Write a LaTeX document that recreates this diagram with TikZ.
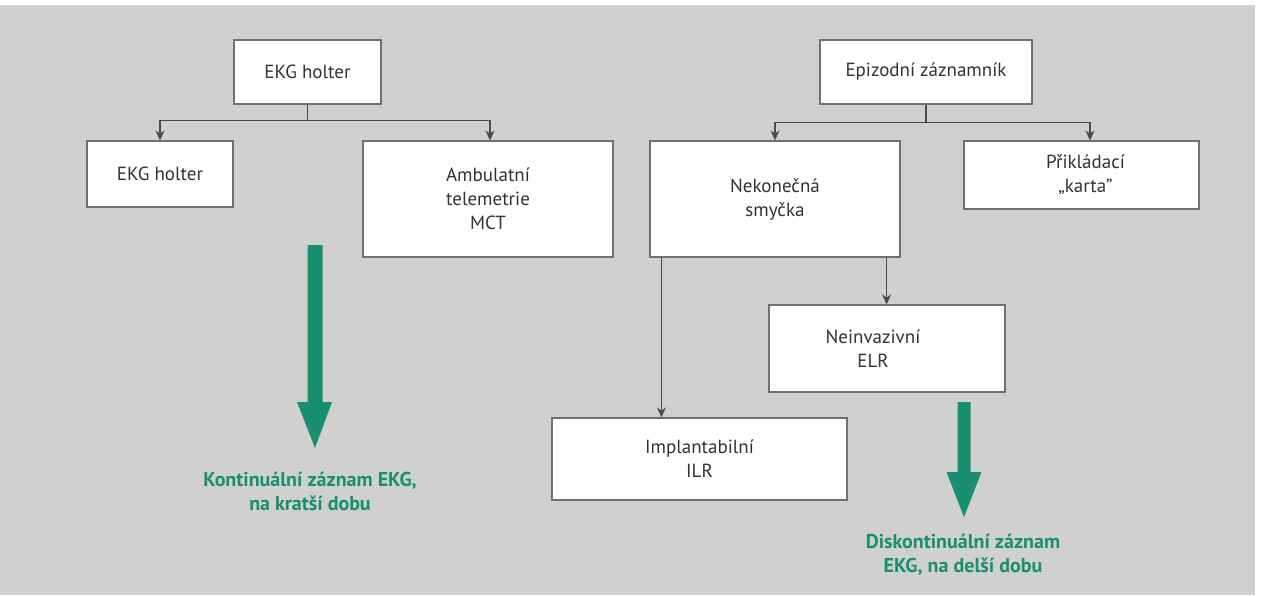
\documentclass[tikz,border=0pt]{standalone}
\usepackage{fontspec}
\setmainfont{PT Sans}
\usetikzlibrary{arrows.meta,calc}
\definecolor{bg}{HTML}{D0D0CE}
\definecolor{ekggreen}{HTML}{198F71}
\definecolor{boxline}{HTML}{707070}
\definecolor{conn}{HTML}{4A4A4A}
\tikzset{
  box/.style={draw=boxline, line width=1.2pt, fill=white, rectangle, align=center,
    font=\fontsize{19}{24}\selectfont, text=black!80, inner sep=0pt},
  conn/.style={draw=conn, line width=1.1pt, -{Stealth[length=10pt,width=9pt]}},
  greenarrow/.style={fill=ekggreen, draw=none},
  greentext/.style={align=center, text=ekggreen, font=\bfseries\fontsize{20}{24}\selectfont}
}
\begin{document}
\begin{tikzpicture}[x=1pt,y=-1pt]
\useasboundingbox (0,0) rectangle (1262,595);
\fill[white] (0,0) rectangle (1262,595);
\fill[bg] (0,5) rectangle (1255,595);

% left tree
\node[box, minimum width=147, minimum height=64] (hol1) at (307.5,72) {EKG holter};
\node[box, minimum width=146, minimum height=66] (hol2) at (160,174) {EKG holter};
\node[box, minimum width=250, minimum height=116] (amb) at (488,199) {Ambulatní\\telemetrie\\MCT};
\coordinate (lsplit) at ($(hol1.south)+(0,16)$);
\draw[conn] (hol1.south) -- (lsplit) -| (hol2.north);
\draw[conn] (lsplit) -| ([xshift=2]amb.north);

% right tree
\node[box, minimum width=212, minimum height=64] (epi) at (926,72) {Epizodní záznamník};
\node[box, minimum width=250, minimum height=116] (nek) at (775,199) {Nekonečná\\smyčka};
\node[box, minimum width=235, minimum height=68] (prik) at (1081.5,175) {\hspace*{8pt}Přikládací\\\hspace*{8pt}„karta"};
\node[box, minimum width=236, minimum height=87] (neinv) at (887,348.5) {\hspace*{-28pt}Neinvazivní\\\hspace*{-28pt}ELR};
\node[box, minimum width=295, minimum height=82] (ilr) at (699.5,459) {Implantabilní\\ILR};
\coordinate (rsplit) at ($(epi.south)+(0,18)$);
\draw[conn] (epi.south) -- (rsplit) -| (nek.north);
\draw[conn] (rsplit) -| ([xshift=8.5]prik.north);
\draw[conn] ([xshift=12]nek.south west) -- ([xshift=12]nek.south west |- ilr.north);
\draw[conn] ([xshift=-14]nek.south east) -- ([xshift=-14]nek.south east |- neinv.north);

% green arrows
\fill[greenarrow] (307.5,245) -- (322.5,245) -- (322.5,402) -- (332,402) -- (315,448) -- (297,402) -- (307.5,402) -- cycle;
\fill[greenarrow] (957.5,402) -- (970.5,402) -- (970.5,472) -- (981.5,472) -- (964,517) -- (946.5,472) -- (957.5,472) -- cycle;

\node[greentext] (lt) at (310,491) {Kontinuální záznam EKG,\\na kratší dobu};
\node[greentext] (rt) at (963,555) {Diskontinuální záznam\\EKG, na delší dobu};
\end{tikzpicture}
\end{document}
